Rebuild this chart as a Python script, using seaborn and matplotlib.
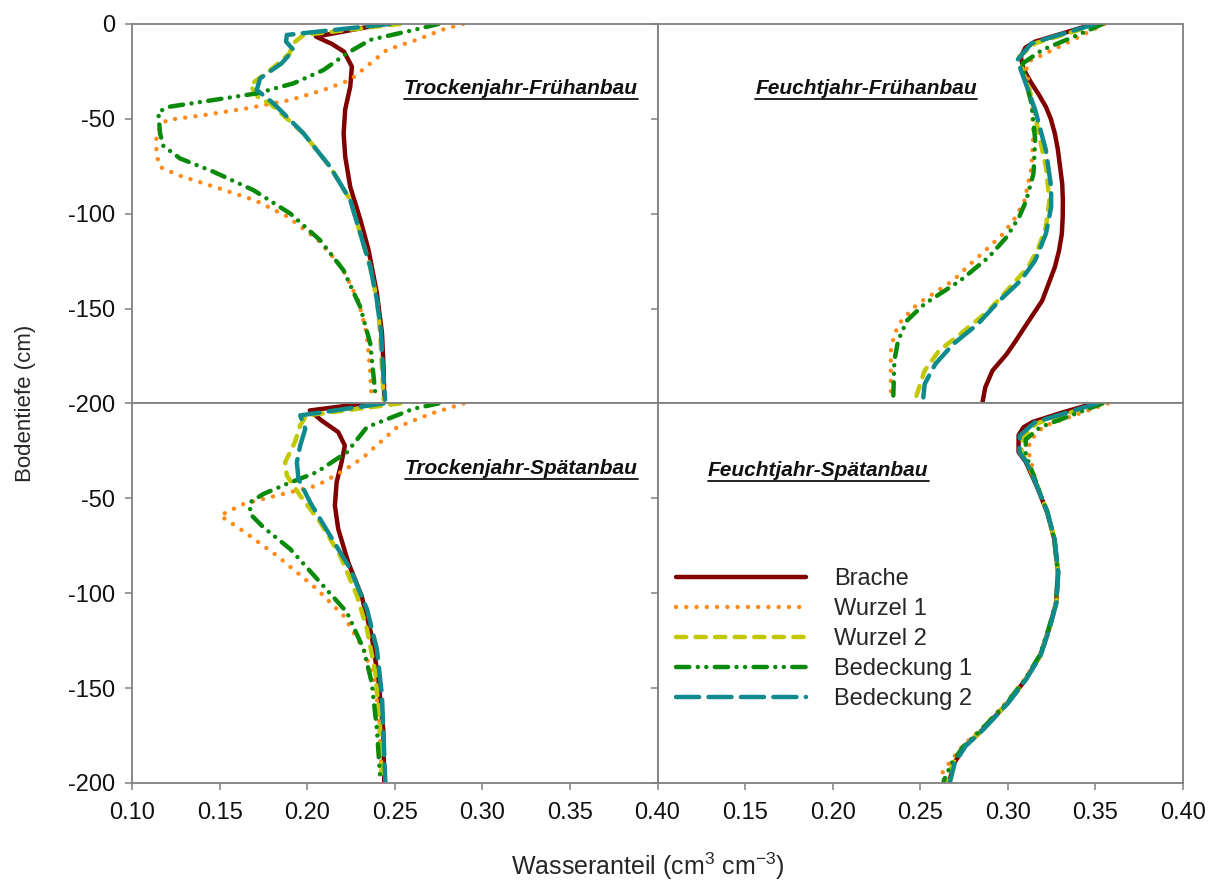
import matplotlib
matplotlib.use("Agg")
import matplotlib.pyplot as plt
from matplotlib.lines import Line2D
import pandas as pd
import seaborn as sns

# Varianten und Farben
varianten = ["Brache", "Wurzel 1", "Wurzel 2", "Bedeckung 1", "Bedeckung 2"]
farben = ["#800000", "#ff8a1c", "#c2c800", "#0a8a0a", "#0f8b8d"]

# Trockenjahr-Fruehanbau (Wasseranteil, Tiefe)
tf_brache = [(0.244, 0), (0.205, -6.7), (0.214, -10.5), (0.221, -14.6), (0.2255, -22.5), (0.2246, -33), (0.2217, -45),
             (0.2208, -57.7), (0.2217, -70), (0.2246, -86), (0.2303, -103), (0.235, -119), (0.2398, -142),
             (0.2427, -163), (0.2436, -181), (0.244, -198)]
tf_wurzel1 = [(0.289, 0), (0.278, -2.8), (0.263, -8.2), (0.2455, -13.7), (0.235, -21.6), (0.2246, -29.5),
              (0.2093, -34.8), (0.1903, -40.1), (0.1655, -44.5), (0.1415, -48), (0.1196, -50.7),
              (0.1139, -57.7), (0.1139, -68.2), (0.1158, -75.3), (0.1263, -79.7), (0.1472, -85.9),
              (0.1701, -92.9), (0.1891, -101.7), (0.2063, -114), (0.2196, -128), (0.2291, -145.6),
              (0.2339, -163), (0.2358, -181), (0.2367, -196)]
tf_wurzel2 = [(0.253, 0), (0.198, -5.8), (0.192, -10.2), (0.190, -15.5), (0.179, -24.3), (0.1674, -32.2),
              (0.1722, -38.9), (0.1789, -42), (0.1979, -57.7), (0.2131, -75.3), (0.2246, -92.9),
              (0.2303, -110.5), (0.236, -128), (0.2398, -145.6), (0.2417, -163), (0.2427, -181), (0.2436, -198)]
tf_bedeckung1 = [(0.275, 0), (0.2607, -3.2), (0.236, -8.4), (0.2227, -15.5), (0.2093, -24.3), (0.1922, -31.3),
                 (0.1712, -36.6), (0.1465, -40.1), (0.1217, -43.6), (0.115, -46.3), (0.116, -57.7),
                 (0.1179, -64.3), (0.1274, -70.9), (0.1465, -77.9), (0.1693, -87.6), (0.1903, -99.9),
                 (0.2074, -114), (0.2207, -129.8), (0.2303, -149.2), (0.236, -168.5), (0.2389, -195)]
tf_bedeckung2 = [(0.2474, 0), (0.1884, -5.8), (0.1879, -9.3), (0.1922, -13.7), (0.1855, -20.7), (0.1731, -28.7),
                 (0.1712, -34.8), (0.1808, -41.9), (0.1979, -57.7), (0.2131, -75.3), (0.2246, -92.9),
                 (0.2303, -110.5), (0.236, -128), (0.2398, -145.6), (0.2422, -163), (0.2432, -181), (0.2445, -198)]

# Feuchtjahr-Fruehanbau
ff_brache = [(0.349, 0), (0.333, -4.5), (0.3156, -9.3), (0.310, -12.5), (0.3074, -17.3), (0.3085, -22.5),
             (0.3105, -26.5), (0.3135, -31.3), (0.3175, -37), (0.3217, -43.7), (0.3245, -50), (0.3268, -57.7),
             (0.3285, -66), (0.3298, -75.4), (0.331, -84), (0.3314, -93), (0.3313, -102), (0.3308, -110.6),
             (0.3292, -119.5), (0.3268, -128.2), (0.3196, -145.8), (0.3095, -159.9), (0.3045, -167),
             (0.2993, -174), (0.2912, -182.7), (0.2871, -191.5), (0.2855, -199.5)]
ff_wurzel1 = [(0.3552, 0), (0.338, -8), (0.3217, -15.5), (0.3115, -19.9), (0.3105, -24.3), (0.3135, -40.1),
              (0.3146, -57.7), (0.3135, -75.4), (0.3095, -93), (0.3044, -101.8), (0.2973, -110.6),
              (0.2871, -119.4), (0.278, -127), (0.2688, -135.2), (0.2585, -141.5), (0.2485, -147.5),
              (0.2393, -156.3), (0.2352, -163.4), (0.2332, -172.2), (0.2332, -196.8)]
ff_wurzel2 = [(0.3522, 0), (0.334, -5), (0.3156, -10.2), (0.3064, -17.3), (0.3085, -24.3), (0.3135, -38.4),
              (0.3176, -57.7), (0.3217, -75.4), (0.3237, -93), (0.3217, -107), (0.3176, -117.6),
              (0.3115, -128.2), (0.3013, -138.7), (0.2891, -151), (0.2729, -163.4), (0.2607, -172.2),
              (0.2525, -182.7), (0.2475, -196.8)]
ff_bedeckung1 = [(0.3542, 0), (0.337, -7), (0.3196, -13.7), (0.3085, -20.8), (0.3095, -27.8), (0.3135, -41.9),
                 (0.3156, -61.3), (0.3146, -78.9), (0.3105, -93), (0.3064, -101.8), (0.2993, -112.3),
                 (0.2891, -122.9), (0.2729, -135.2), (0.2525, -147.5), (0.2424, -156.3), (0.2373, -166.9),
                 (0.2352, -177.5), (0.2346, -196)]
ff_bedeckung2 = [(0.3501, 0), (0.332, -5), (0.3135, -10.2), (0.3054, -19), (0.3095, -29.6), (0.3156, -45.4),
                 (0.3217, -66.5), (0.3247, -85.9), (0.3247, -96.5), (0.3217, -110.6), (0.3156, -124.6),
                 (0.3074, -135.2), (0.2952, -145.8), (0.283, -158), (0.2688, -168.7), (0.2586, -179.2),
                 (0.2525, -189.8), (0.2515, -198.6)]

# Trockenjahr-Spaetanbau
ts_brache = [(0.2327, 0), (0.2015, -3.7), (0.2082, -9), (0.2177, -15.1), (0.2215, -22.2), (0.2196, -31),
             (0.2168, -41.5), (0.2158, -53.8), (0.2177, -66.1), (0.2234, -83.7), (0.231, -101.3),
             (0.2368, -122.4), (0.2406, -145.3), (0.2434, -171.7), (0.244, -199.8)]
ts_wurzel1 = [(0.2893, 0), (0.2703, -5.5), (0.2513, -12.5), (0.2322, -28.3), (0.2208, -35.4), (0.2055, -43.3),
              (0.1827, -48.5), (0.1636, -53), (0.1503, -59.1), (0.1617, -66.1), (0.1827, -80.2),
              (0.2055, -97.8), (0.2208, -111.9), (0.2322, -129.5), (0.2389, -147), (0.2408, -164.6),
              (0.2427, -196.3)]
ts_wurzel2 = [(0.2531, 0), (0.1997, -6.3), (0.1959, -11.6), (0.193, -20.4), (0.1874, -31), (0.1884, -38),
              (0.1959, -48.5), (0.2074, -62.6), (0.2188, -80.2), (0.2284, -101.3), (0.2341, -118.9),
              (0.2389, -141.8), (0.2417, -171.7), (0.2427, -199.8)]
ts_bedeckung1 = [(0.275, 0), (0.2607, -2.8), (0.2341, -12.5), (0.2227, -25.7), (0.2055, -36.2), (0.1884, -42.4),
                 (0.175, -47.7), (0.1674, -52.1), (0.1674, -58.2), (0.175, -65.3), (0.1903, -76.7),
                 (0.2074, -94.3), (0.2227, -110.1), (0.2322, -129.5), (0.2368, -147), (0.2398, -171.7),
                 (0.2417, -198)]
ts_bedeckung2 = [(0.2436, 0), (0.196, -6.3), (0.1989, -13.4), (0.196, -22.2), (0.1941, -31), (0.195, -39.8),
                 (0.2017, -52.1), (0.2131, -69.7), (0.2246, -87.2), (0.2341, -108.4), (0.2398, -129.5),
                 (0.2427, -154.1), (0.2446, -199.8)]

# Feuchtjahr-Spaetanbau
fs_brache = [(0.349, 0), (0.331, -4.8), (0.3143, -9.7), (0.309, -12.5), (0.3061, -16.7), (0.3061, -25.6),
             (0.3102, -30.8), (0.3163, -43.2), (0.3224, -57.3), (0.3265, -71.4), (0.3286, -89), (0.3276, -104.8),
             (0.3235, -118.9), (0.3184, -133), (0.3102, -145.4), (0.3, -157.7), (0.2857, -171.8), (0.2755, -180.6),
             (0.2694, -189.4), (0.2663, -200)]
fs_wurzel1 = [(0.357, 0), (0.3205, -12), (0.3122, -20), (0.3122, -27), (0.3163, -42), (0.3224, -57.3),
              (0.3265, -71.4), (0.3288, -89), (0.3278, -104.8), (0.3235, -118.9), (0.318, -133),
              (0.3095, -145.4), (0.299, -157.7), (0.2845, -171.8), (0.274, -180.6), (0.2665, -189.4),
              (0.2612, -196.5)]
fs_wurzel2 = [(0.352, 0), (0.3165, -10.5), (0.3085, -17.5), (0.3078, -25.6), (0.3112, -31.5), (0.3168, -43.2),
              (0.3226, -57.3), (0.3266, -71.4), (0.3287, -89), (0.3277, -104.8), (0.3236, -118.9),
              (0.3184, -133), (0.3102, -145.4), (0.3, -157.7), (0.2855, -171.8), (0.2752, -180.6),
              (0.2688, -189.4), (0.265, -199)]
fs_bedeckung1 = [(0.354, 0), (0.3185, -12.5), (0.3102, -19), (0.3102, -27), (0.3135, -35), (0.3168, -43.2),
                 (0.3225, -57.3), (0.3264, -71.4), (0.3285, -89), (0.3275, -104.8), (0.3232, -118.9),
                 (0.318, -133), (0.3098, -145.4), (0.2995, -157.7), (0.285, -171.8), (0.2748, -180.6),
                 (0.268, -189.4), (0.2633, -199)]
fs_bedeckung2 = [(0.351, 0), (0.3153, -10), (0.3068, -17), (0.3066, -25.6), (0.3105, -30.8), (0.3165, -43.2),
                 (0.3226, -57.3), (0.3267, -71.4), (0.3288, -89), (0.3278, -104.8), (0.3237, -118.9),
                 (0.3186, -133), (0.3104, -145.4), (0.3003, -157.7), (0.286, -171.8), (0.2758, -180.6),
                 (0.2697, -189.4), (0.2668, -200)]

titel = ["Trockenjahr-Frühanbau", "Feuchtjahr-Frühanbau", "Trockenjahr-Spätanbau", "Feuchtjahr-Spätanbau"]
panels = [
    [tf_brache, tf_wurzel1, tf_wurzel2, tf_bedeckung1, tf_bedeckung2],
    [ff_brache, ff_wurzel1, ff_wurzel2, ff_bedeckung1, ff_bedeckung2],
    [ts_brache, ts_wurzel1, ts_wurzel2, ts_bedeckung1, ts_bedeckung2],
    [fs_brache, fs_wurzel1, fs_wurzel2, fs_bedeckung1, fs_bedeckung2],
]

# Linienmuster (in Vielfachen der Linienbreite)
muster = {"Brache": "",
          "Wurzel 1": (0.01, 2.3),
          "Wurzel 2": (2.3, 2.1),
          "Bedeckung 1": (3.0, 1.9, 0.01, 1.9, 0.01, 1.9),
          "Bedeckung 2": (5.2, 2.1)}
palette = dict(zip(varianten, farben))

sns.set_theme(style="ticks")
plt.rcParams["font.family"] = ["Liberation Sans", "DejaVu Sans"]
plt.rcParams["axes.unicode_minus"] = False
plt.rcParams["mathtext.default"] = "regular"

fig = plt.figure(figsize=(12.18, 8.86), dpi=100)
gs = fig.add_gridspec(2, 2, left=0.1084, right=0.9713, top=0.973, bottom=0.1163, wspace=0, hspace=0)
grau = "#808080"

achsen = []
for i in range(4):
    ax = fig.add_subplot(gs[i // 2, i % 2])
    achsen.append(ax)
    zeilen = []
    for name, reihe in zip(varianten, panels[i]):
        for w, t in reihe:
            zeilen.append({"Variante": name, "Wasseranteil": w, "Tiefe": t})
    df = pd.DataFrame(zeilen)
    sns.lineplot(data=df, x="Wasseranteil", y="Tiefe", hue="Variante", style="Variante",
                 hue_order=varianten, style_order=varianten, palette=palette, dashes=muster,
                 sort=False, estimator=None, legend=False, ax=ax, lw=3.2,
                 dash_capstyle="round", solid_capstyle="round", solid_joinstyle="round")
    ax.set_xlim(0.10, 0.40)
    ax.set_ylim(-200, 0)
    ax.set_xlabel("")
    ax.set_ylabel("")
    for sp in ax.spines.values():
        sp.set_visible(True)
        sp.set_color(grau)
        sp.set_linewidth(1.3)
    ax.tick_params(direction="out", length=5, width=1.1, color=grau, labelsize=17, labelcolor="#111111")
    ax.tick_params(axis="x", pad=9)
    ax.tick_params(axis="y", pad=7)

# Achsenbeschriftungen je Panel
for i, ax in enumerate(achsen):
    unten = i >= 2
    links = i % 2 == 0
    if unten:
        if links:
            ax.set_xticks([0.10, 0.15, 0.20, 0.25, 0.30, 0.35, 0.40])
        else:
            ax.set_xticks([0.15, 0.20, 0.25, 0.30, 0.35, 0.40])
        ax.set_xticklabels([f"{v:.2f}" for v in ax.get_xticks()])
    else:
        ax.set_xticks([])
    if unten:
        ax.set_yticks([-200, -150, -100, -50])
    else:
        ax.set_yticks([-200, -150, -100, -50, 0])
    if links:
        ax.set_yticklabels([str(int(v)) for v in ax.get_yticks()])
    else:
        ax.set_yticklabels([])

# Paneltitel (fett, kursiv, unterstrichen)
pos = [(0.962, 0.83, "right"), (0.397, 0.83, "center"), (0.962, 0.829, "right"), (0.306, 0.824, "center")]
texte = []
for ax, t, (x, y, ha) in zip(achsen, titel, pos):
    texte.append(ax.text(x, y, t, transform=ax.transAxes, ha=ha, va="center", fontsize=15,
                         fontweight="bold", fontstyle="italic", color="#111111"))

# Legende im Panel unten rechts
ax = achsen[3]
ax.legend(handles=ax.get_lines()[:5], labels=varianten, loc="upper left", bbox_to_anchor=(0.012, 0.597),
          frameon=False, fontsize=17, handlelength=5.5, handletextpad=1.2, labelspacing=0.34,
          borderpad=0)

fig.supylabel("Bodentiefe (cm)", x=0.012, y=0.545, fontsize=16)
fig.supxlabel("Wasseranteil (cm$^{3}$ cm$^{-3}$)", x=0.532, y=0.004, fontsize=18)

fig.canvas.draw()
r = fig.canvas.get_renderer()
for t in texte:
    bb = t.get_window_extent(renderer=r)
    (x0, y0), (x1, _) = fig.transFigure.inverted().transform([[bb.x0, bb.y0 - 1.5], [bb.x1, bb.y1]])
    fig.add_artist(Line2D([x0, x1], [y0, y0], transform=fig.transFigure, color="#111111", lw=1.3))

fig.savefig("out.png", dpi=100)
